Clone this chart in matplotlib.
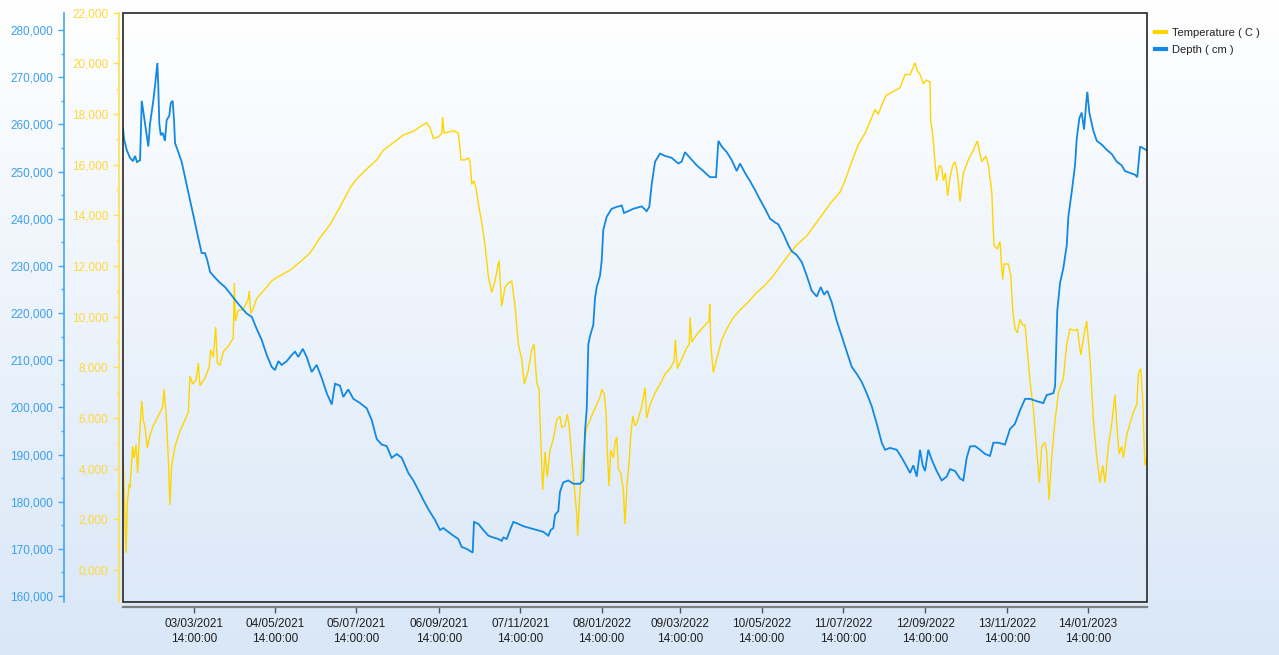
import numpy as np
import pandas as pd
import matplotlib
matplotlib.use("Agg")
import matplotlib.pyplot as plt
import matplotlib.dates as mdates
from matplotlib.ticker import FuncFormatter, MultipleLocator, FixedLocator
from matplotlib.patches import Rectangle
from matplotlib.lines import Line2D

plt.rcParams["font.family"] = ["Liberation Sans", "DejaVu Sans"]

# ---- data: logger readings, time in days after the first sample ----
START = pd.Timestamp("2021-01-08 14:00:00")
END_DAY = 781

depth_day = [0, 0.8, 2.8, 5.3, 7.6, 9.2, 10.7, 13.0, 14.3, 16.8, 19.3, 20.6, 21.9, 23.1, 24.4, 26.2, 26.9, 27.7,
             28.8, 30.3, 32.0, 33.3, 35.3, 36.4, 37.9, 38.9, 39.7, 42.2, 44.8, 48.6, 51.1, 53.6, 57.4, 60.0, 62.5,
             64.3, 66.4, 70.2, 74.0, 77.8, 81.6, 85.4, 90.5, 94.3, 98.2, 102.0, 105.8, 109.6, 113.4, 115.9, 118.5,
             121.0, 124.9, 128.7, 131.2, 133.7, 137.1, 140.1, 143.9, 147.7, 151.6, 155.4, 159.2, 161.7, 165.5,
             168.0, 171.8, 175.7, 180.8, 185.9, 189.7, 193.5, 197.3, 201.1, 204.9, 208.8, 212.6, 217.6, 221.4,
             225.2, 229.0, 232.9, 238.0, 241.8, 244.3, 248.1, 251.9, 255.7, 258.3, 262.1, 266.7, 267.7, 271.0,
             274.8, 278.6, 282.4, 286.2, 288.8, 290.1, 292.7, 295.2, 297.7, 301.5, 305.3, 310.4, 315.5, 320.6,
             324.4, 326.2, 328.2, 329.5, 332.0, 333.3, 335.8, 339.6, 343.5, 348.6, 351.1, 352.4, 353.7, 354.9,
             356.2, 358.7, 360.0, 361.3, 363.8, 365.1, 366.3, 368.9, 372.7, 376.6, 380.4, 382.1, 385.4, 389.2,
             395.6, 399.4, 401.4, 403.2, 405.8, 409.6, 413.4, 418.5, 423.5, 426.1, 428.6, 432.5, 437.6, 442.6,
             447.7, 452.3, 454.1, 456.6, 460.5, 464.3, 468.1, 470.6, 474.4, 478.2, 482.0, 485.9, 489.7, 493.5,
             497.3, 499.8, 503.6, 507.4, 510.0, 513.8, 517.7, 521.5, 525.3, 529.1, 532.2, 534.7, 537.2, 540.5,
             544.4, 548.2, 552.0, 555.8, 559.6, 563.4, 567.2, 571.1, 574.9, 578.7, 581.2, 585.0, 590.1, 594.0,
             597.8, 600.3, 602.8, 605.4, 607.9, 609.9, 611.7, 614.2, 616.8, 620.6, 624.4, 628.2, 630.8, 634.6,
             638.4, 640.9, 643.5, 646.0, 649.8, 653.7, 657.5, 661.3, 663.8, 667.6, 672.7, 676.5, 680.3, 684.2,
             688.0, 691.8, 696.9, 701.9, 704.5, 709.6, 710.9, 712.6, 714.7, 717.2, 719.8, 721.0, 723.6, 726.1,
             727.4, 729.4, 731.2, 733.0, 734.5, 735.5, 737.0, 740.1, 742.7, 746.5, 750.3, 754.1, 757.9, 761.7,
             764.2, 768.0, 771.9, 773.6, 775.7, 778.2, 780.8]

depth_cm = [259.2, 256.9, 254.6, 252.9, 252.2, 253.3, 252.0, 252.4, 265.0, 260.1, 255.3, 260.1, 262.6, 265.0,
            268.1, 273.0, 268.1, 260.1, 257.7, 258.2, 256.5, 260.9, 261.8, 264.5, 265.0, 260.9, 256.0, 254.1,
            252.0, 247.1, 244.0, 240.8, 235.9, 232.7, 232.7, 231.2, 228.7, 227.5, 226.4, 225.5, 224.2, 222.8,
            221.1, 219.9, 219.2, 216.6, 214.3, 211.1, 208.6, 207.9, 209.8, 209.0, 209.8, 211.1, 211.8, 210.7,
            212.4, 210.7, 207.5, 209.0, 206.2, 203.0, 200.6, 205.0, 204.6, 202.2, 203.8, 201.8, 200.9, 199.8,
            197.3, 193.3, 192.1, 191.8, 189.3, 190.1, 189.3, 186.1, 184.5, 182.5, 180.4, 178.4, 176.1, 174.0,
            174.4, 173.6, 172.8, 172.1, 170.4, 170.0, 169.2, 175.7, 175.3, 174.0, 172.8, 172.4, 172.1, 171.7,
            172.4, 172.1, 174.0, 175.7, 175.3, 174.8, 174.4, 174.0, 173.6, 172.8, 174.0, 174.4, 177.2, 178.0,
            182.1, 184.1, 184.5, 183.8, 183.8, 184.5, 195.0, 199.8, 213.4, 215.1, 217.5, 223.2, 225.5, 227.9,
            231.1, 237.6, 240.4, 242.1, 242.5, 242.8, 241.2, 241.6, 242.1, 242.6, 241.6, 242.5, 247.2, 252.1,
            253.8, 253.3, 252.9, 251.7, 252.1, 254.1, 252.9, 251.3, 250.1, 248.8, 248.8, 256.5, 255.3, 254.1,
            252.4, 250.1, 251.7, 249.7, 248.0, 246.1, 244.0, 242.1, 240.0, 239.2, 238.8, 236.8, 234.4, 233.1,
            232.3, 230.8, 227.9, 224.7, 223.5, 225.5, 223.9, 224.7, 222.3, 218.3, 215.1, 211.8, 208.6, 207.1,
            205.4, 203.0, 200.2, 196.5, 192.5, 191.0, 191.4, 191.0, 189.3, 187.4, 186.1, 187.7, 185.3, 191.0,
            187.7, 186.5, 191.0, 188.9, 186.5, 184.5, 185.3, 186.9, 186.5, 184.9, 184.5, 189.3, 191.7, 191.8,
            191.0, 190.1, 189.7, 192.5, 192.5, 192.1, 195.4, 196.5, 199.4, 201.8, 201.8, 201.3, 200.9, 202.6,
            203.0, 204.5, 220.6, 226.4, 229.5, 234.4, 240.4, 245.7, 251.3, 256.9, 261.3, 262.5, 258.9, 264.1,
            266.9, 262.5, 258.6, 256.5, 255.7, 254.6, 253.7, 252.1, 251.3, 250.1, 249.7, 249.3, 248.8, 255.3,
            254.9, 254.5]

temp_day = [0.2, 1.1, 2.3, 3.3, 4.8, 5.3, 7.4, 8.4, 9.9, 11.2, 12.4, 14.3, 15.5, 16.8, 18.5, 20.6, 23.1, 26.9,
            30.3, 31.3, 32.8, 34.6, 35.8, 37.1, 39.7, 43.5, 47.3, 49.8, 51.1, 53.2, 55.7, 57.4, 58.7, 62.5, 65.8,
            66.9, 68.9, 70.7, 71.9, 74.0, 76.5, 80.3, 84.1, 84.9, 85.7, 87.9, 90.5, 93.1, 95.6, 96.3, 97.4, 99.4,
            102.0, 105.8, 109.6, 113.4, 117.2, 122.3, 127.4, 135.0, 142.6, 150.3, 157.9, 165.5, 173.1, 178.2,
            185.9, 193.5, 198.5, 206.2, 213.8, 221.4, 227.8, 231.6, 234.2, 236.7, 240.5, 243.1, 243.8, 244.8,
            248.1, 252.5, 255.7, 256.6, 257.8, 260.8, 263.4, 264.7, 266.0, 267.7, 269.2, 271.0, 273.6, 276.1,
            278.6, 281.2, 283.7, 286.8, 288.8, 291.4, 293.9, 296.5, 299.0, 301.5, 304.1, 306.1, 309.1, 311.7,
            313.5, 315.5, 317.3, 318.6, 320.1, 321.9, 323.6, 325.7, 328.2, 330.8, 333.3, 334.6, 337.1, 338.9,
            340.4, 342.3, 344.8, 346.1, 346.8, 348.0, 349.9, 351.6, 353.7, 356.2, 358.7, 361.3, 363.8, 365.1,
            366.9, 368.4, 369.4, 370.7, 372.0, 374.0, 375.3, 376.6, 377.8, 379.6, 381.6, 382.9, 384.2, 386.2,
            387.3, 388.8, 390.5, 391.8, 395.6, 398.2, 399.4, 402.0, 405.8, 409.6, 413.4, 417.2, 420.3, 421.3,
            422.8, 426.1, 429.9, 431.9, 432.5, 433.8, 437.6, 441.4, 445.2, 447.0, 447.5, 448.3, 450.2, 452.8,
            456.6, 460.5, 465.5, 470.6, 476.9, 483.3, 489.7, 496.0, 502.4, 508.7, 513.8, 521.5, 527.8, 534.1,
            540.5, 546.9, 550.7, 555.8, 560.8, 565.9, 569.7, 573.6, 576.1, 578.7, 582.0, 587.5, 592.6, 596.5,
            600.3, 604.1, 605.8, 607.9, 610.4, 612.5, 615.5, 616.0, 617.6, 619.3, 620.6, 622.6, 624.4, 625.7,
            627.2, 629.0, 630.8, 632.8, 634.6, 636.4, 638.4, 640.9, 644.7, 648.5, 651.6, 654.9, 658.2, 660.0,
            662.6, 664.3, 666.8, 668.9, 670.2, 671.0, 672.0, 675.2, 677.1, 678.6, 680.3, 682.1, 684.2, 686.2,
            688.0, 689.8, 691.8, 694.3, 696.9, 698.9, 700.7, 703.2, 704.5, 706.3, 708.3, 710.9, 713.4, 717.2,
            719.8, 722.3, 726.1, 727.9, 730.5, 733.0, 735.0, 737.5, 740.1, 742.7, 745.2, 747.2, 749.0, 751.5,
            754.1, 756.6, 757.9, 759.7, 761.7, 763.0, 765.5, 768.0, 770.6, 773.2, 774.4, 776.2, 777.8, 778.7,
            779.5, 780.8]

temp_c = [4.28, 2.78, 0.68, 2.65, 3.40, 3.24, 4.88, 4.42, 4.95, 3.83, 5.17, 6.67, 5.92, 5.63, 4.82, 5.33, 5.70,
          6.08, 6.45, 7.13, 6.24, 4.35, 2.57, 4.13, 4.88, 5.49, 5.92, 6.24, 7.66, 7.34, 7.50, 8.17, 7.28, 7.58,
          8.03, 8.70, 8.41, 9.59, 8.17, 8.09, 8.62, 8.84, 9.16, 11.33, 9.83, 10.26, 10.26, 10.42, 10.72, 11.01,
          10.12, 10.34, 10.72, 10.95, 11.17, 11.41, 11.55, 11.69, 11.84, 12.16, 12.51, 13.12, 13.64, 14.33,
          15.08, 15.44, 15.83, 16.19, 16.57, 16.87, 17.17, 17.32, 17.54, 17.65, 17.47, 17.04, 17.09, 17.24,
          17.88, 17.24, 17.29, 17.34, 17.24, 16.86, 16.19, 16.19, 16.27, 16.12, 15.22, 15.37, 15.07, 14.47,
          13.72, 12.83, 11.62, 10.95, 11.41, 12.22, 10.42, 11.17, 11.33, 11.41, 10.42, 8.92, 8.33, 7.34, 7.88,
          8.70, 8.92, 7.42, 7.13, 5.17, 3.16, 4.66, 3.68, 4.74, 5.17, 5.92, 6.08, 5.63, 5.70, 6.16, 5.63, 4.42,
          2.93, 2.17, 1.36, 2.65, 4.13, 4.88, 5.63, 5.92, 6.24, 6.53, 6.83, 7.13, 6.99, 6.24, 4.66, 3.32, 4.74,
          4.42, 5.03, 5.25, 3.99, 3.83, 3.16, 1.82, 3.24, 4.42, 5.33, 6.08, 5.70, 5.78, 6.45, 7.20, 6.00, 6.53,
          6.99, 7.34, 7.74, 7.95, 8.25, 9.08, 7.95, 8.33, 8.77, 8.92, 9.97, 9.00, 9.30, 9.52, 9.75, 9.83, 10.50,
          8.92, 7.80, 8.33, 9.08, 9.52, 9.97, 10.26, 10.58, 10.95, 11.25, 11.62, 12.08, 12.51, 12.83, 13.19,
          13.64, 14.09, 14.54, 14.92, 15.37, 16.12, 16.79, 17.24, 17.69, 18.18, 17.99, 18.36, 18.74, 18.89,
          19.04, 19.56, 19.56, 20.02, 19.71, 19.56, 19.19, 19.34, 19.27, 17.77, 17.17, 16.12, 15.37, 15.97,
          15.89, 15.37, 15.67, 14.77, 15.52, 15.97, 16.12, 15.67, 14.54, 15.67, 16.19, 16.57, 16.94, 16.12,
          16.34, 15.97, 14.92, 12.82, 12.67, 12.97, 11.92, 11.47, 12.08, 12.08, 11.62, 10.26, 9.52, 9.37, 9.90,
          9.67, 9.67, 8.62, 7.42, 6.38, 4.74, 3.45, 4.88, 5.03, 4.66, 2.78, 4.43, 5.92, 6.99, 7.58, 8.92, 9.52,
          9.45, 9.52, 8.49, 9.30, 9.83, 8.33, 5.92, 4.43, 3.45, 4.13, 3.45, 4.88, 5.78, 6.91, 5.78, 4.58, 4.88,
          4.43, 5.33, 5.78, 6.24, 6.53, 7.74, 7.95, 6.67, 5.17, 4.13, 4.43]

tick_dates = ["2021-03-03 14:00", "2021-05-04 14:00", "2021-07-05 14:00", "2021-09-06 14:00",
              "2021-11-07 14:00", "2022-01-08 14:00", "2022-03-09 14:00", "2022-05-10 14:00",
              "2022-07-11 14:00", "2022-09-12 14:00", "2022-11-13 14:00", "2023-01-14 14:00"]

series_labels = ["Temperature ( C )", "Depth ( cm )"]

# ---- styling ----
YELLOW = "#FFD500"
YELLOW_AX = "#FFE04D"
YELLOW_TXT = "#FFD83A"
BLUE = "#1288E2"
BLUE_AX = "#45A6F0"
BLUE_TXT = "#3C9FEE"

W, H = 1279, 655
fig = plt.figure(figsize=(W / 100, H / 100), dpi=100)

# soft vertical gradient behind everything
bg = fig.add_axes([0, 0, 1, 1], zorder=-10)
g = np.linspace(0, 1, 256)[:, None, None]
c_top = np.array([1.0, 1.0, 1.0])
c_bot = np.array([217, 231, 247]) / 255.0
bg.imshow(c_top * (1 - g) + c_bot * g, aspect="auto", extent=[0, 1, 0, 1], origin="upper")
bg.set_axis_off()

left, right, top, bottom = 123, 1147, 12.7, 602
ax = fig.add_axes([left / W, 1 - bottom / H, (right - left) / W, (bottom - top) / H])
ax.patch.set_alpha(0)
ax2 = ax.twinx()
ax2.patch.set_alpha(0)

t_x = START + pd.to_timedelta(np.array(temp_day), unit="D")
d_x = START + pd.to_timedelta(np.array(depth_day), unit="D")

ax.plot(t_x, temp_c, color=YELLOW, lw=1.0, solid_joinstyle="miter")
ax2.plot(d_x, depth_cm, color=BLUE, lw=1.3, solid_joinstyle="miter")

ax.set_xlim(START, START + pd.Timedelta(days=END_DAY))
ax.set_ylim(-1.26, 22.0)
ax2.set_ylim(158.73, 283.67)

fmt = FuncFormatter(lambda v, p: f"{v:.3f}".replace(".", ","))

# temperature scale (inner left)
for s in ("top", "right"):
    ax.spines[s].set_visible(False)
ax.spines["left"].set_position(("outward", 2.9))
ax.spines["left"].set_color(YELLOW_AX)
ax.spines["left"].set_linewidth(1.2)
ax.yaxis.set_major_locator(MultipleLocator(2))
ax.yaxis.set_minor_locator(MultipleLocator(1))
ax.yaxis.set_major_formatter(fmt)
ax.tick_params(axis="y", which="major", length=4.3, width=1, color=YELLOW_AX,
               labelcolor=YELLOW_TXT, labelsize=8.5, pad=3.4)
ax.tick_params(axis="y", which="minor", length=2.4, width=1, color=YELLOW_AX)

# depth scale (outer left)
for s in ("top", "right", "bottom"):
    ax2.spines[s].set_visible(False)
ax2.spines["left"].set_visible(True)
ax2.spines["left"].set_position(("outward", 42.5))
ax2.spines["left"].set_color(BLUE_AX)
ax2.spines["left"].set_linewidth(1.2)
ax2.yaxis.tick_left()
ax2.yaxis.set_label_position("left")
ax2.yaxis.set_major_locator(MultipleLocator(10))
ax2.yaxis.set_minor_locator(MultipleLocator(5))
ax2.yaxis.set_major_formatter(fmt)
ax2.tick_params(axis="y", which="major", length=4.3, width=1, color=BLUE_AX,
                labelcolor=BLUE_TXT, labelsize=8.5, pad=3.4)
ax2.tick_params(axis="y", which="minor", length=2.4, width=1, color=BLUE_AX)

# time axis
ax.spines["bottom"].set_position(("outward", 3.6))
ax.spines["bottom"].set_color("#808080")
ax.spines["bottom"].set_linewidth(1.6)
ax.xaxis.set_major_locator(FixedLocator(mdates.date2num(pd.to_datetime(tick_dates))))
ax.xaxis.set_major_formatter(mdates.DateFormatter("%d/%m/%Y\n%H:%M:%S"))
ax.tick_params(axis="x", which="major", length=4.3, width=1, color="#555555",
               labelcolor="#1e1e1e", labelsize=8.5, pad=3.4)
for lab in ax.get_xticklabels():
    lab.set_linespacing(1.4)

# plot frame
ax2.add_patch(Rectangle((0, 0), 1, 1, transform=ax2.transAxes, fill=False,
                        ec="#262626", lw=1.2, zorder=10, clip_on=False))

handles = [Line2D([], [], color=YELLOW, lw=3), Line2D([], [], color=BLUE, lw=3)]
leg = fig.legend(handles, series_labels, loc="upper left",
                 bbox_to_anchor=(1155 / W, 1 - 28 / H), frameon=False, fontsize=8,
                 handlelength=1.0, handletextpad=0.55, labelspacing=0.62,
                 borderpad=0, borderaxespad=0)
for t in leg.get_texts():
    t.set_color("#222222")

fig.savefig("out.png", dpi=100)
